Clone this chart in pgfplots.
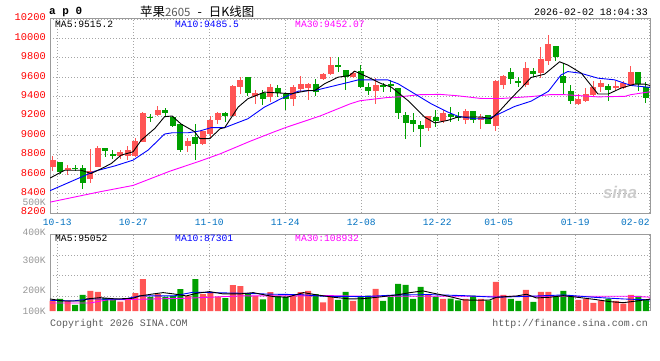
\documentclass[border=0pt]{standalone}
\usepackage{pgfplots}
\usepackage{pgfplotstable}
\pgfplotsset{compat=1.18}
\usepackage{fontspec}
\setmainfont{Liberation Mono}
\setsansfont{Liberation Sans}
\newfontfamily\cjk{Noto Sans CJK SC}
\definecolor{cred}{RGB}{255,85,85}
\definecolor{cgreen}{RGB}{0,160,0}
\definecolor{labred}{RGB}{255,0,0}
\definecolor{datblue}{RGB}{0,112,192}
\definecolor{framegray}{RGB}{155,155,155}
\definecolor{gridgray}{RGB}{165,165,165}
\definecolor{mablue}{RGB}{0,0,255}
\definecolor{mamag}{RGB}{255,0,255}
\definecolor{lblgray}{RGB}{150,150,150}
\definecolor{copygray}{RGB}{90,90,90}

\pgfplotstableread{
i o h l c v
0 8677 8789 8636 8751 79000
2 8640 8690 8595 8665 79000
5 8546 8855 8511 8628 158000
6 8675 8888 8672 8874 150100
9 8785 8850 8755 8826 73500
10 8792 8895 8745 8846 94800
11 8786 8978 8780 8942 139800
12 8935 9240 8930 9236 250400
14 9208 9298 9200 9264 131900
18 8887 8978 8826 8942 116100
20 8910 9050 8900 9044 131900
21 9019 9196 8978 9155 144600
22 9155 9241 9114 9231 113000
24 9203 9518 9196 9511 203000
25 9497 9600 9429 9576 195100
27 9402 9463 9326 9436 118500
29 9395 9525 9340 9504 147700
32 9374 9521 9302 9497 118500
33 9480 9617 9446 9535 147700
34 9487 9540 9360 9535 158000
36 9583 9648 9576 9638 68700
37 9634 9805 9627 9730 113000
40 9600 9668 9593 9648 79000
43 9456 9593 9326 9518 173800
50 9073 9196 9046 9196 126400
52 9149 9258 9128 9231 94800
55 9155 9275 9114 9248 94800
57 9162 9217 9066 9190 94800
59 9094 9573 9046 9559 229100
60 9522 9624 9481 9616 126400
63 9515 9753 9502 9692 165900
65 9641 9908 9590 9783 150100
66 9766 10031 9725 9939 150100
70 9319 9427 9312 9380 86900
71 9353 9488 9346 9427 94800
72 9420 9563 9403 9498 63200
73 9502 9573 9447 9539 84500
75 9488 9563 9454 9512 79000
76 9488 9556 9475 9536 57700
77 9515 9719 9505 9651 126400
}\redtab

\pgfplotstableread{
i o h l c v
1 8723 8727 8607 8622 94800
3 8668 8690 8634 8650 47400
4 8668 8690 8450 8505 126400
7 8867 8868 8778 8840 100300
8 8812 8850 8752 8785 92400
13 9192 9216 9134 9186 108200
15 9257 9286 9190 9230 110600
16 9190 9195 9085 9100 118500
17 9113 9125 8826 8846 171400
19 8983 9120 8751 8908 250400
23 9231 9241 9138 9200 100300
26 9600 9600 9402 9436 136700
28 9436 9470 9316 9371 92400
30 9484 9518 9395 9436 118500
31 9429 9436 9258 9374 113000
35 9528 9580 9405 9446 131900
38 9722 9805 9651 9716 86900
39 9679 9679 9470 9607 150100
41 9662 9730 9490 9497 113000
42 9504 9545 9415 9456 120900
44 9518 9538 9443 9504 79000
45 9528 9573 9443 9518 108200
46 9484 9490 9169 9231 213300
47 9207 9237 8964 9128 205400
48 9155 9231 9039 9114 94800
49 9104 9149 8882 9063 189600
51 9190 9265 9087 9149 113000
53 9217 9292 9138 9190 97200
54 9196 9244 9149 9183 84500
56 9248 9248 9128 9162 120900
58 9213 9213 9114 9118 84500
61 9651 9698 9529 9583 94800
62 9556 9597 9495 9539 79000
64 9664 9692 9597 9634 71100
67 9925 9925 9766 9807 118500
68 9617 9742 9430 9542 158000
69 9461 9515 9325 9353 118500
74 9505 9529 9359 9471 97200
78 9651 9651 9454 9529 118500
79 9498 9549 9336 9386 86900
}\greentab

\pgfplotstableread{
i p
-0.36 8560
1.6 8641
3.8 8641
5.1 8607
6.5 8658
7.8 8710
9.1 8796
10.7 8831
11.8 8952
13.6 9072
14.9 9193
15.9 9200
17.1 9117
18.9 9038
19.6 8966
20.9 8966
22.3 9069
22.9 9080
24.7 9292
26.0 9378
28.2 9446
30.4 9436
31.8 9429
34.0 9463
34.9 9463
36.2 9532
38.0 9600
39.5 9617
40.2 9662
42.0 9600
43.8 9532
45.1 9497
47.3 9360
49.5 9190
50.9 9128
52.6 9155
54.0 9190
57.1 9190
58.4 9172
59.5 9251
61.1 9386
62.8 9522
63.7 9597
65.5 9631
67.5 9759
68.6 9725
70.4 9641
72.6 9427
74.0 9427
75.7 9488
77.5 9529
78.8 9529
79.54 9515
}\mafive

\pgfplotstableread{
i p
-0.36 8430
5.6 8631
8.3 8686
10.7 8745
12.7 8848
14.9 9014
15.9 9027
18.0 9027
19.6 9046
21.1 9080
22.9 9080
26.0 9172
28.2 9292
30.4 9378
32.7 9456
34.9 9463
37.1 9504
39.5 9549
40.7 9573
44.6 9573
46.0 9532
48.2 9429
50.4 9326
52.6 9241
54.0 9196
56.2 9172
58.0 9172
59.5 9224
61.5 9298
63.7 9353
66.0 9454
67.7 9624
68.6 9658
70.3 9641
72.6 9590
74.8 9573
77.0 9515
79.54 9495
}\maten

\pgfplotstableread{
i p
-0.36 8312
6.3 8419
10.7 8484
15.6 8631
19.6 8735
22.3 8810
26.3 8940
29.6 9040
31.2 9086
35.6 9200
39.6 9325
40.9 9357
44.5 9390
46.2 9398
48.9 9420
51.6 9423
54.0 9408
57.0 9381
59.6 9380
63.7 9400
66.2 9420
68.2 9420
72.6 9397
76.2 9403
77.0 9420
79.54 9450
}\mathirty

\pgfplotstableread{
i v
-0.36 94800
1.4 79000
4.1 79000
4.5 94800
6.3 105000
8.5 94800
10.7 100300
11.6 118500
13.4 134300
14.7 144600
16.1 134300
17.8 118500
19.2 139800
20.9 152500
22.7 134300
24.9 134300
26.7 144600
29.4 113000
31.2 108200
33.4 144600
35.2 126400
37.4 108200
39.6 94800
41.4 97200
43.6 110600
45.8 126400
47.6 144600
49.3 158000
50.7 139800
52.5 118500
54.7 86900
56.9 84500
58.2 86900
59.1 108200
61.8 118500
63.1 131900
64.4 102700
66.2 108200
68.0 120900
70.6 102700
72.4 89300
74.2 73500
76.0 65600
77.8 79000
79.54 93000
}\vmafive

\pgfplotstableread{
i v
-0.36 84500
2.7 79000
5.0 94800
9.4 92400
11.6 118500
16.1 118500
18.7 147700
24.9 139800
29.4 131900
32.9 128800
36.0 116100
41.4 113000
45.8 126400
50.2 128800
54.7 120900
59.1 108200
63.6 116100
68.0 126400
72.0 108200
76.0 94800
79.54 87300
}\vmaten

\pgfplotstableread{
i v
-0.36 63200
5.0 63200
7.2 86900
11.6 92400
17.8 100300
24.9 118500
32.9 118500
36.9 120900
41.4 116100
59.1 116100
76.9 116100
79.54 109000
}\vmathirty

\pgfplotsset{
  wickstyle/.style={forget plot, draw=none, mark=none,
    error bars/.cd, y dir=both, y explicit, error mark=none,
    error bar style={draw=#1, solid, line width=1bp}},
  bodystyle/.style={forget plot, draw=none, mark=none,
    error bars/.cd, y dir=both, y explicit, error mark=none,
    error bar style={draw=#1, solid, line width=6bp}},
}

\begin{document}
\begin{tikzpicture}[x=1bp,y=1bp]
\path (0,0) rectangle (660,360);

\begin{axis}[
  at={(50bp,147bp)}, anchor=south west,
  scale only axis, width=600bp, height=194bp,
  xmin=-0.36, xmax=79.54, ymin=8200, ymax=10200,
  axis line style={draw=framegray, line width=1bp},
  tick style={draw=none},
  scaled y ticks=false, scaled x ticks=false,
  xtick={0.61,10.73,20.85,30.97,41.09,51.21,59.39,69.59,79.5},
  xticklabels={10-13,10-27,11-10,11-24,12-08,12-22,01-05,01-19,\makebox[0pt][r]{02-02}},
  ytick={8200,8400,8600,8800,9000,9200,9400,9600,9800,10000,10200},
  yticklabels={8200,8400,8600,8800,9000,9200,9400,9600,9800,10000,10200},
  xmajorgrids, ymajorgrids,
  grid style={draw=gridgray, dash pattern=on 1bp off 2bp, line width=0.8bp},
  xticklabel style={font=\fontsize{9.6}{10}\selectfont, text=datblue, inner sep=0pt, yshift=-6bp},
  yticklabel style={font=\fontsize{10.4}{11}\selectfont, text=labred, inner sep=0pt, xshift=-4bp, yshift=1.5bp},
]
\addplot[wickstyle=cred] table[x=i, y expr={(\thisrow{h}+\thisrow{l})/2}, y error expr={(\thisrow{h}-\thisrow{l})/2}] {\redtab};
\addplot[bodystyle=cred] table[x=i, y expr={(\thisrow{o}+\thisrow{c})/2}, y error expr={max(abs(\thisrow{o}-\thisrow{c})/2,5)}] {\redtab};
\addplot[wickstyle=cgreen] table[x=i, y expr={(\thisrow{h}+\thisrow{l})/2}, y error expr={(\thisrow{h}-\thisrow{l})/2}] {\greentab};
\addplot[bodystyle=cgreen] table[x=i, y expr={(\thisrow{o}+\thisrow{c})/2}, y error expr={max(abs(\thisrow{o}-\thisrow{c})/2,5)}] {\greentab};
\addplot[mamag, line width=0.9bp, mark=none] table[x=i, y=p] {\mathirty};
\addplot[mablue, line width=0.9bp, mark=none] table[x=i, y=p] {\maten};
\addplot[black, line width=0.9bp, mark=none] table[x=i, y=p] {\mafive};
\end{axis}

\begin{axis}[
  at={(50bp,49bp)}, anchor=south west,
  scale only axis, width=600bp, height=76.3bp,
  xmin=-0.36, xmax=79.54, ymin=0, ymax=600000,
  axis line style={draw=none},
  tick style={draw=none},
  clip=false,
  scaled y ticks=false, scaled x ticks=false,
  xtick={0.61,10.73,20.85,30.97,41.09,51.21,59.39,69.59,79.5},
  xticklabels={},
  ytick={116000,278000,438000},
  yticklabels={},
  xmajorgrids, ymajorgrids,
  grid style={draw=gridgray, dash pattern=on 1bp off 2bp, line width=0.8bp},
  extra y ticks={0,165000,401000,600000},
  extra y tick labels={100K,200K,300K,\raisebox{4.5bp}{400K}},
  extra y tick style={grid=none},
  yticklabel style={font=\fontsize{9.7}{10}\selectfont, text=lblgray, inner sep=0pt, xshift=-4bp},
]
\draw[framegray, line width=1bp] (rel axis cs:0,0) -- (rel axis cs:0,1) -- (rel axis cs:1,1) -- (rel axis cs:1,0);
\addplot[ybar, bar width=6bp, bar shift=0pt, fill=cred, draw=none, forget plot] table[x=i, y=v] {\redtab};
\addplot[ybar, bar width=6bp, bar shift=0pt, fill=cgreen, draw=none, forget plot] table[x=i, y=v] {\greentab};
\addplot[mamag, line width=0.9bp, mark=none] table[x=i, y=v] {\vmathirty};
\addplot[mablue, line width=0.9bp, mark=none] table[x=i, y=v] {\vmaten};
\addplot[black, line width=0.9bp, mark=none] table[x=i, y=v] {\vmafive};
\end{axis}

% texts
\node[anchor=west, font=\bfseries\fontsize{11}{12}\selectfont, inner sep=0pt] at (49,348) {a p 0};
\node[anchor=west, font=\cjk\fontsize{12.5}{13}\selectfont, inner sep=0pt] at (140,348) {苹果{\color{copygray}\fontsize{11.5}{12}\selectfont 2605}\hspace{7bp}-\hspace{7bp}日K线图};
\node[anchor=east, font=\fontsize{10}{11}\selectfont, inner sep=0pt] at (648,348) {2026-02-02 18:04:33};
\node[anchor=west, font=\fontsize{9.7}{10}\selectfont, inner sep=0pt] at (55,336) {MA5:9515.2};
\node[anchor=west, font=\fontsize{9.7}{10}\selectfont, inner sep=0pt, text=mablue] at (175,336) {MA10:9485.5};
\node[anchor=west, font=\fontsize{9.7}{10}\selectfont, inner sep=0pt, text=mamag] at (295,336) {MA30:9452.07};
\node[anchor=west, font=\fontsize{9.7}{10}\selectfont, inner sep=0pt] at (55,121.5) {MA5:95052};
\node[anchor=west, font=\fontsize{9.7}{10}\selectfont, inner sep=0pt, text=mablue] at (175,121.5) {MA10:87301};
\node[anchor=west, font=\fontsize{9.7}{10}\selectfont, inner sep=0pt, text=mamag] at (295,121.5) {MA30:108932};
\node[anchor=east, font=\fontsize{9.7}{10}\selectfont, inner sep=0pt, text=lblgray] at (46,158) {500K};
\node[anchor=west, font=\fontsize{10}{11}\selectfont, inner sep=0pt, text=copygray] at (50,36) {Copyright 2026 SINA.COM};
\node[anchor=east, font=\fontsize{10}{11}\selectfont, inner sep=0pt, text=copygray] at (648,36) {http://finance.sina.com.cn};
\node[font=\sffamily\bfseries\itshape\fontsize{17}{17}\selectfont, text=gray!40] at (620,168) {sina};
\end{tikzpicture}
\end{document}
